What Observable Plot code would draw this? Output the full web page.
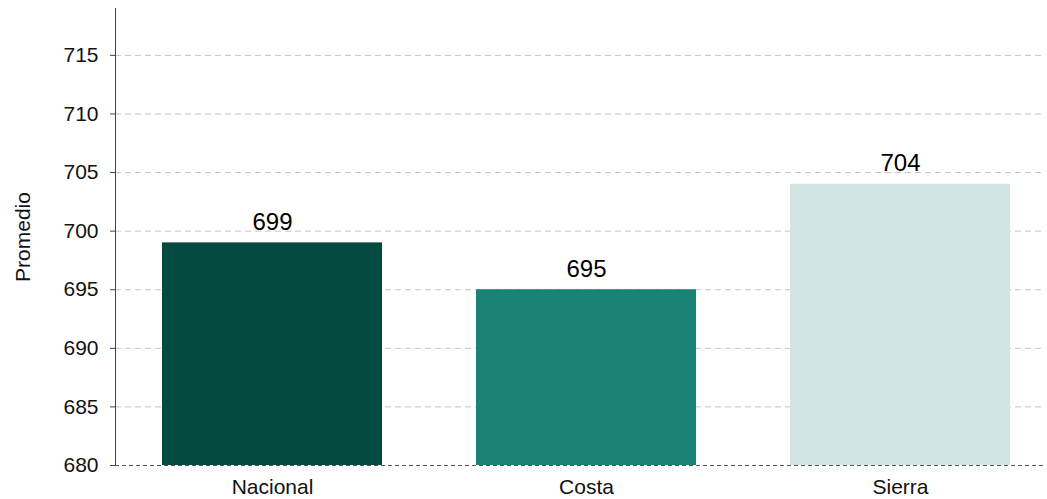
<!DOCTYPE html>
<html>
<head>
<meta charset="utf-8">
<script src="https://cdn.jsdelivr.net/npm/d3@7"></script>
<script src="https://cdn.jsdelivr.net/npm/@observablehq/plot@0.6"></script>
<style>
  body { margin: 0; background: #fff; }
  svg { font-family: "Liberation Sans", Arial, sans-serif; }
</style>
</head>
<body>
<div id="chart"></div>
<script>
const categories = ["Nacional", "Costa", "Sierra"];
const values = [699, 695, 704];
const colors = ["#054a41", "#1a8277", "#d2e5e4"];
const yTicks = [680, 685, 690, 695, 700, 705, 710, 715];

const data = categories.map((c, i) => ({cat: c, value: values[i], color: colors[i]}));

const chart = Plot.plot({
  width: 1047,
  height: 499,
  marginLeft: 115,
  marginRight: 4,
  marginTop: 8,
  marginBottom: 34,
  style: {fontFamily: "Liberation Sans, Arial, sans-serif", fontSize: "21px", color: "#111", background: "#fff"},
  x: {domain: categories, range: [115, 1057], paddingInner: 0.3, paddingOuter: 0.15, label: null},
  y: {domain: [680, 719], label: null},
  marks: [
    Plot.ruleY(yTicks.slice(1), {stroke: "#c4c4c4", strokeDasharray: "6,4", strokeWidth: 1}),
    Plot.barY(data, {x: "cat", y1: 680, y2: "value", fill: "color"}),
    Plot.ruleY([680], {stroke: "#555", strokeDasharray: "4,3", strokeWidth: 1}),
    Plot.text(data, {x: "cat", y: "value", text: d => String(d.value), lineAnchor: "bottom", dy: -13, fontSize: 24, fill: "#000"}),
    Plot.axisY({ticks: yTicks, tickSize: 5, tickPadding: 12, fontSize: 21, stroke: "#444", label: "Promedio", labelAnchor: "center", labelArrow: "none", labelOffset: 100}),
    Plot.axisX({tickSize: 0, tickPadding: 14, fontSize: 21, label: null}),
    Plot.frame({anchor: "left", stroke: "#444"})
  ]
});
document.getElementById("chart").appendChild(chart);
</script>
</body>
</html>
